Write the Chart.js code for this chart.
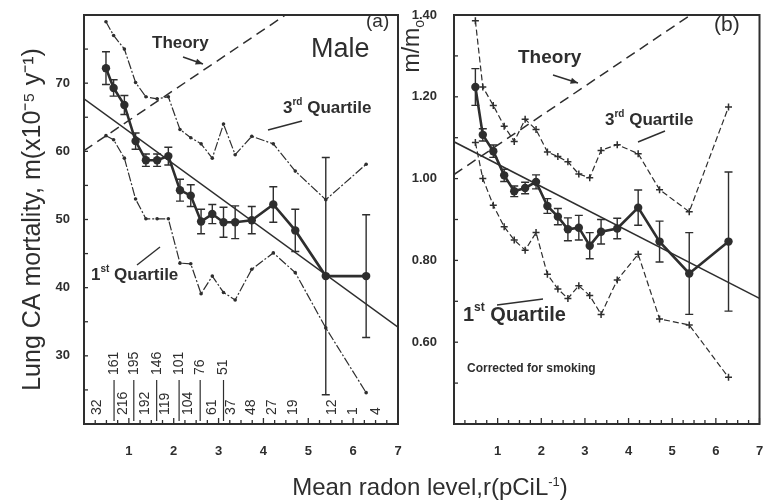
<!DOCTYPE html>
<html lang="en">
<head>
<meta charset="UTF-8">
<title>Lung CA mortality vs radon</title>
<script src="https://cdn.jsdelivr.net/npm/chart.js"></script>
<style>
  body { margin: 0; background: #fff; overflow: hidden; }
  #wrap { position: relative; width: 765px; height: 502px; }
  #wrap canvas { position: absolute; left: 0; top: 0; }
  #xtitle { position: absolute; left: 130px; width: 600px; top: 473px; text-align: center;
            font: 24px 'Liberation Sans', Arial, sans-serif; color: #2e2e2e; }
  #xtitle sup { font-size: 13px; }
</style>
</head>
<body>
<div id="wrap">
  <canvas id="chartA" width="765" height="502"></canvas>
  <canvas id="chartB" width="765" height="502"></canvas>
  <div id="xtitle">Mean radon level,r(pCiL<sup>-1</sup>)</div>
</div>

<script>
// radon bins (pCi/L)
const radon = [0.49, 0.66, 0.90, 1.15, 1.38, 1.63, 1.88, 2.14, 2.38, 2.61, 2.86, 3.11, 3.37, 3.74, 4.22, 4.71, 5.39, 6.29];

// (a) male lung cancer mortality
const meanA = [72.2, 69.3, 66.8, 61.5, 58.7, 58.7, 59.3, 54.3, 53.5, 49.7, 50.8, 49.6, 49.6, 49.9, 52.2, 48.4, 41.7, 41.7];
const errA  = [2.4, 1.2, 1.4, 1.2, 0.9, 0.9, 1.3, 1.6, 1.6, 1.8, 1.4, 2.2, 2.4, 2.0, 2.6, 3.1, 17.4, 9.0];
const q3A   = [79.0, 77.0, 75.0, 70.1, 68.0, 67.7, 68.0, 63.2, 62.0, 61.1, 59.0, 64.0, 59.5, 62.2, 61.1, 57.1, 52.9, 58.1];
const q1A   = [62.3, 61.7, 59.0, 53.0, 50.1, 50.1, 50.1, 43.6, 43.5, 39.1, 41.7, 39.3, 38.2, 42.7, 45.1, 42.2, 34.1, 24.6];
const fitAx = [0, 7],    fitAy = [67.7, 34.2];
const theoAx = [0, 4.49], theoAy = [60.1, 80];

// (b) corrected for smoking, m/m0
const meanB = [1.224, 1.107, 1.067, 1.008, 0.969, 0.977, 0.992, 0.933, 0.907, 0.876, 0.880, 0.836, 0.870, 0.878, 0.929, 0.846, 0.768, 0.846];
const errB  = [0.045, 0.015, 0.015, 0.015, 0.013, 0.014, 0.017, 0.018, 0.020, 0.028, 0.030, 0.032, 0.030, 0.025, 0.043, 0.050, 0.100, 0.170];
const q3B   = [1.386, 1.224, 1.179, 1.128, 1.091, 1.145, 1.120, 1.065, 1.054, 1.041, 1.011, 1.002, 1.069, 1.083, 1.061, 0.973, 0.919, 1.175];
const q1B   = [1.088, 1.000, 0.935, 0.882, 0.850, 0.825, 0.868, 0.766, 0.730, 0.707, 0.738, 0.714, 0.668, 0.752, 0.815, 0.657, 0.642, 0.514];
const fitBx = [0, 7],    fitBy = [1.09, 0.707];
const theoBx = [0, 5.42], theoBy = [1.01, 1.40];

// number of counties per bin (two staggered rows)
const countsLow   = ['32', '216', '192', '119', '104', '61', '37', '48', '27', '19', '12', '1', '4'];
const countsLowX  = [0.30, 0.88, 1.37, 1.82, 2.33, 2.85, 3.27, 3.72, 4.20, 4.67, 5.53, 6.00, 6.52];
const countsHigh  = ['161', '195', '146', '101', '76', '51'];
const countsHighX = [0.67, 1.11, 1.62, 2.12, 2.59, 3.11];

const FF = "'Liberation Sans', Arial, Helvetica, sans-serif";
const INK = '#2e2e2e';
const pts = (xs, ys) => xs.map((x, i) => ({x: x, y: ys[i]}));

function drawParts(ctx, parts, x, y, size, weight, align) {
  ctx.textAlign = 'left';
  ctx.textBaseline = 'middle';
  let total = 0;
  parts.forEach(p => {
    ctx.font = weight + ' ' + (p.sup || p.sub ? Math.round(size * 0.6) : size) + 'px ' + FF;
    total += ctx.measureText(p.t).width;
  });
  let cx = align === 'right' ? x - total : x;
  parts.forEach(p => {
    const s = p.sup || p.sub ? Math.round(size * 0.6) : size;
    ctx.font = weight + ' ' + s + 'px ' + FF;
    const dy = p.sup ? -size * 0.35 : (p.sub ? size * 0.3 : 0);
    ctx.fillText(p.t, cx, y + dy);
    cx += ctx.measureText(p.t).width;
  });
}

const decor = {
  id: 'decor',
  afterDraw(chart, args, opts) {
    const ctx = chart.ctx, a = chart.chartArea;
    const xs = chart.scales.x, ys = chart.scales.y;
    ctx.save();
    ctx.strokeStyle = INK;
    ctx.fillStyle = INK;

    // inward tick marks
    ctx.lineWidth = 1.3;
    xs.ticks.forEach(t => {
      const px = xs.getPixelForValue(t.value);
      const len = Number.isInteger(t.value) ? 6 : 4;
      ctx.beginPath(); ctx.moveTo(px, a.bottom); ctx.lineTo(px, a.bottom - len); ctx.stroke();
    });
    ys.ticks.forEach(t => {
      const py = ys.getPixelForValue(t.value);
      ctx.beginPath(); ctx.moveTo(a.left, py); ctx.lineTo(a.left + 4, py); ctx.stroke();
    });

    // frame
    ctx.lineWidth = 2;
    ctx.strokeRect(a.left, a.top, a.right - a.left, a.bottom - a.top);

    // error bars
    const eb = opts.errbars;
    ctx.lineWidth = 1.4;
    eb.y.forEach((v, i) => {
      const px = xs.getPixelForValue(eb.x[i]);
      const hi = ys.getPixelForValue(v + eb.err[i]);
      const lo = ys.getPixelForValue(v - eb.err[i]);
      ctx.beginPath();
      ctx.moveTo(px, hi); ctx.lineTo(px, lo);
      ctx.moveTo(px - 4, hi); ctx.lineTo(px + 4, hi);
      ctx.moveTo(px - 4, lo); ctx.lineTo(px + 4, lo);
      ctx.stroke();
    });

    // counts
    if (opts.counts) {
      ctx.font = '14px ' + FF;
      ctx.textAlign = 'left';
      ctx.textBaseline = 'middle';
      const rot = (txt, x, y) => {
        ctx.save(); ctx.translate(x, y); ctx.rotate(-Math.PI / 2); ctx.fillText(txt, 0, 0); ctx.restore();
      };
      countsLow.forEach((c, i) => rot(c, xs.getPixelForValue(countsLowX[i]), 415));
      ctx.lineWidth = 1.2;
      countsHigh.forEach((c, i) => {
        const px = xs.getPixelForValue(countsHighX[i]);
        rot(c, px, 375);
        ctx.beginPath(); ctx.moveTo(px, 380); ctx.lineTo(px, 421); ctx.stroke();
      });
    }

    // labels, leaders, arrows
    (opts.notes || []).forEach(n => {
      if (n.line) {
        const [x1, y1, x2, y2] = n.line;
        ctx.lineWidth = 1.4;
        ctx.beginPath(); ctx.moveTo(x1, y1); ctx.lineTo(x2, y2); ctx.stroke();
        if (n.arrow) {
          const ang = Math.atan2(y2 - y1, x2 - x1);
          ctx.beginPath();
          ctx.moveTo(x2, y2);
          ctx.lineTo(x2 - 8 * Math.cos(ang - 0.4), y2 - 8 * Math.sin(ang - 0.4));
          ctx.lineTo(x2 - 8 * Math.cos(ang + 0.4), y2 - 8 * Math.sin(ang + 0.4));
          ctx.closePath(); ctx.fill();
        }
      } else if (n.rot) {
        ctx.save();
        ctx.translate(n.x, n.y);
        ctx.rotate(-Math.PI / 2);
        drawParts(ctx, n.parts, 0, 0, n.size, n.weight || 'normal', 'right');
        ctx.restore();
      } else {
        drawParts(ctx, n.parts, n.x, n.y, n.size, n.weight || 'normal');
      }
    });
    ctx.restore();
  }
};

function makeChart(id, cfg) {
  const lineDs = (label, xs, ys, extra) => Object.assign({
    label: label, data: pts(xs, ys), showLine: true, borderColor: INK, backgroundColor: INK,
    borderWidth: 1.3, pointRadius: 0, tension: 0
  }, extra);
  return new Chart(document.getElementById(id), {
    type: 'scatter',
    data: {
      datasets: [
        lineDs('Theory', cfg.theoX, cfg.theoY, {borderDash: [10, 6], borderWidth: 1.5}),
        lineDs('Fit', cfg.fitX, cfg.fitY, {borderWidth: 1.5}),
        lineDs('3rd Quartile', radon, cfg.q3, cfg.qStyle),
        lineDs('1st Quartile', radon, cfg.q1, cfg.qStyle),
        lineDs('Mean', radon, cfg.mean, {borderWidth: 2.6, pointRadius: 4.2, pointBorderWidth: 0})
      ]
    },
    options: {
      responsive: false,
      animation: false,
      events: [],
      layout: {padding: cfg.pad},
      scales: {
        x: {
          type: 'linear', min: 0, max: 7,
          grid: {display: false}, border: {display: false},
          afterFit(s) { s.height = 78; s.paddingLeft = 0; s.paddingRight = 0; },
          ticks: {
            stepSize: 0.25, autoSkip: false, maxRotation: 0, padding: 12, color: INK,
            font: {family: FF, size: 13, weight: 'bold'},
            callback: v => (Number.isInteger(v) && v > 0) ? String(v) : ''
          }
        },
        y: {
          min: cfg.ymin, max: cfg.ymax,
          grid: {display: false}, border: {display: false},
          afterFit(s) { s.width = cfg.yWidth; s.paddingTop = 0; s.paddingBottom = 0; },
          ticks: {
            stepSize: cfg.ystep, autoSkip: false, padding: cfg.ypad, color: INK,
            font: {family: FF, size: 13, weight: 'bold'},
            callback: cfg.ylabel
          },
          title: {
            display: !!cfg.ytitle, text: cfg.ytitle || '', color: INK,
            font: {family: FF, size: 25}, padding: {top: 18, bottom: 0}
          }
        }
      },
      plugins: {
        legend: {display: false},
        tooltip: {enabled: false},
        decor: {errbars: {x: radon, y: cfg.mean, err: cfg.err}, counts: cfg.counts, notes: cfg.notes}
      }
    },
    plugins: [decor]
  });
}

makeChart('chartA', {
  theoX: theoAx, theoY: theoAy, fitX: fitAx, fitY: fitAy,
  q3: q3A, q1: q1A, mean: meanA, err: errA,
  qStyle: {borderWidth: 1.2, borderDash: [9, 2, 2, 2], pointRadius: 1.8, pointBorderWidth: 0},
  pad: {left: 0, right: 367, top: 15, bottom: 0},
  ymin: 20, ymax: 80, ystep: 5, yWidth: 84, ypad: 6,
  ylabel: v => (v % 10 === 0 && v >= 30 && v <= 70) ? String(v) : '',
  ytitle: 'Lung CA mortality, m(x10\u207B\u2075 y\u207B\u00B9)',
  counts: true,
  notes: [
    {parts: [{t: 'Theory'}], x: 152, y: 43, size: 17, weight: 'bold'},
    {line: [183, 57, 203, 64], arrow: true},
    {parts: [{t: 'Male'}], x: 311, y: 50, size: 27},
    {parts: [{t: '(a)'}], x: 366, y: 22, size: 19},
    {parts: [{t: '3'}, {t: 'rd', sup: true}, {t: ' Quartile'}], x: 283, y: 108, size: 17, weight: 'bold'},
    {line: [268, 130, 302, 121]},
    {parts: [{t: '1'}, {t: 'st', sup: true}, {t: ' Quartile'}], x: 91, y: 275, size: 17, weight: 'bold'},
    {line: [137, 265, 160, 247]}
  ]
});

makeChart('chartB', {
  theoX: theoBx, theoY: theoBy, fitX: fitBx, fitY: fitBy,
  q3: q3B, q1: q1B, mean: meanB, err: errB,
  qStyle: {borderWidth: 1.2, borderDash: [6, 3], pointStyle: 'cross', pointRadius: 3.5, pointBorderWidth: 1.5},
  pad: {left: 400, right: 2, top: 15, bottom: 0},
  ymin: 0.4, ymax: 1.4, ystep: 0.1, yWidth: 54, ypad: 9,
  ylabel: v => { const k = Math.round(v * 10); return (k % 2 === 0 && k >= 6) ? v.toFixed(2) : ''; },
  ytitle: null,
  counts: false,
  notes: [
    {rot: true, parts: [{t: 'm/m'}, {t: 'o', sub: true}], x: 413, y: 20, size: 23},
    {parts: [{t: 'Theory'}], x: 518, y: 58, size: 19, weight: 'bold'},
    {line: [553, 75, 578, 83], arrow: true},
    {parts: [{t: '(b)'}], x: 714, y: 25, size: 21},
    {parts: [{t: '3'}, {t: 'rd', sup: true}, {t: ' Quartile'}], x: 605, y: 120, size: 17, weight: 'bold'},
    {line: [638, 142, 665, 131]},
    {parts: [{t: '1'}, {t: 'st', sup: true}, {t: ' Quartile'}], x: 463, y: 315, size: 20, weight: 'bold'},
    {line: [497, 305, 543, 299]},
    {parts: [{t: 'Corrected for smoking'}], x: 467, y: 369, size: 12, weight: 'bold'}
  ]
});
</script>
</body>
</html>
